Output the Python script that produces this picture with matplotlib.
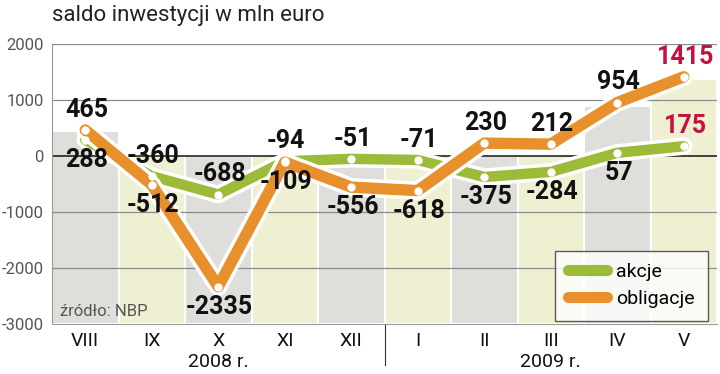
import matplotlib
matplotlib.use("Agg")
import matplotlib.pyplot as plt
import matplotlib.patheffects as pe
from matplotlib.lines import Line2D

# dane: saldo inwestycji w mln euro
miesiace = ["VIII", "IX", "X", "XI", "XII", "I", "II", "III", "IV", "V"]
akcje = [288, -360, -688, -94, -51, -71, -375, -284, 57, 175]
obligacje = [465, -512, -2335, -109, -556, -618, 230, 212, 954, 1415]
# wysokosc kolumn w tle
tlo = [440, 0, 0, 0, 0, 0, 0, 0, 890, 1380]
# polozenie etykiet: 1 nad punktem, -1 pod punktem
poz_akcje = [-1, 1, 1, 1, 1, 1, -1, -1, -1, 1]
poz_oblig = [1, -1, -1, -1, -1, -1, 1, 1, 1, 1]

plt.rcParams['font.family'] = ['Roboto', 'DejaVu Sans']

ZIELONY = "#9cbb38"
POMARANCZ = "#e8902c"
CZERWONY = "#c4113f"

fig = plt.figure(figsize=(7.2, 3.74), dpi=100)
ax = fig.add_axes([52/720, 1-324/374, 665/720, 280/374])

x = list(range(len(miesiace)))
kolory_tla = ["#dededb" if i % 2 == 0 else "#eff0d2" for i in x]
ax.bar(x, [t + 3000 for t in tlo], bottom=-3000, width=1.0, color=kolory_tla,
       edgecolor="white", linewidth=1.5, zorder=0)

for y in [2000, 1000, -1000, -2000]:
    ax.axhline(y, color="#8a8a8a", lw=0.9, zorder=1)
ax.axhline(0, color="#111111", lw=1.1, zorder=1)


def linia(vals, kolor, lw):
    ax.plot(x, vals, color=kolor, lw=lw, solid_capstyle="round",
            solid_joinstyle="round", zorder=3,
            path_effects=[pe.SimpleLineShadow(offset=(1.5, -1.5), shadow_color="#888888", alpha=0.35),
                          pe.Stroke(linewidth=lw + 5, foreground="white"),
                          pe.Normal()])
    ax.plot(x, vals, "o", color="white", ms=6, mec="none", zorder=4)


linia(akcje, ZIELONY, 7.5)
linia(obligacje, POMARANCZ, 8.2)


def etykiety(vals, poz):
    for i, (v, p) in enumerate(zip(vals, poz)):
        kolor = CZERWONY if i == len(vals) - 1 else "#111111"
        ax.annotate(f"{v}", (i, v), xytext=(1, 14.5 * p), textcoords="offset points",
                    ha="center", va="center", fontsize=18, fontweight="bold",
                    color=kolor, zorder=5)


etykiety(akcje, poz_akcje)
etykiety(obligacje, poz_oblig)

ax.set_xlim(-0.5, 9.5)
ax.set_ylim(-3000, 2000)
ax.set_yticks([2000, 1000, 0, -1000, -2000, -3000])
ax.set_yticklabels(["2000", "1000", "0", "-1000", "-2000", "-3000"])
ax.set_xticks(x)
ax.set_xticklabels(miesiace)
ax.tick_params(axis="y", length=0, pad=6, labelsize=12, labelcolor="#555555")
ax.tick_params(axis="x", length=0, pad=6, labelsize=14, labelcolor="#111111")
for s in ["top", "right"]:
    ax.spines[s].set_visible(False)
ax.spines["left"].set_color("#999999")
ax.spines["bottom"].set_color("#999999")
ax.spines["left"].set_zorder(2)
ax.spines["bottom"].set_zorder(2)

# lata pod osia
tr = ax.get_xaxis_transform()
ax.text(2, -0.137, "2008 r.", transform=tr, ha="center", va="center", fontsize=14, color="#111111")
ax.text(7, -0.137, "2009 r.", transform=tr, ha="center", va="center", fontsize=14, color="#111111")
ax.plot([4.5, 4.5], [0, -0.147], transform=tr, color="#333333", lw=0.8, clip_on=False)

ax.text(0.012, 0.045, "źródło: NBP", transform=ax.transAxes, fontsize=12, color="#555555",
        ha="left", va="center", zorder=5)

fig.text(52/720, 1-15/374, "saldo inwestycji w mln euro", fontsize=16, color="#222222",
         ha="left", va="center")

uchwyty = [Line2D([], [], color=ZIELONY, lw=8, solid_capstyle="round"),
           Line2D([], [], color=POMARANCZ, lw=8, solid_capstyle="round")]
leg = ax.legend(uchwyty, ["akcje", "obligacje"], loc="lower right",
                bbox_to_anchor=(0.986, 0.012), fontsize=14, frameon=True,
                fancybox=False, handlelength=2.0, handletextpad=0.5,
                labelspacing=0.45, borderpad=0.65, borderaxespad=0)
leg.get_frame().set_edgecolor("#333333")
leg.get_frame().set_linewidth(1)
leg.set_zorder(6)

fig.savefig("out.png", dpi=100)
